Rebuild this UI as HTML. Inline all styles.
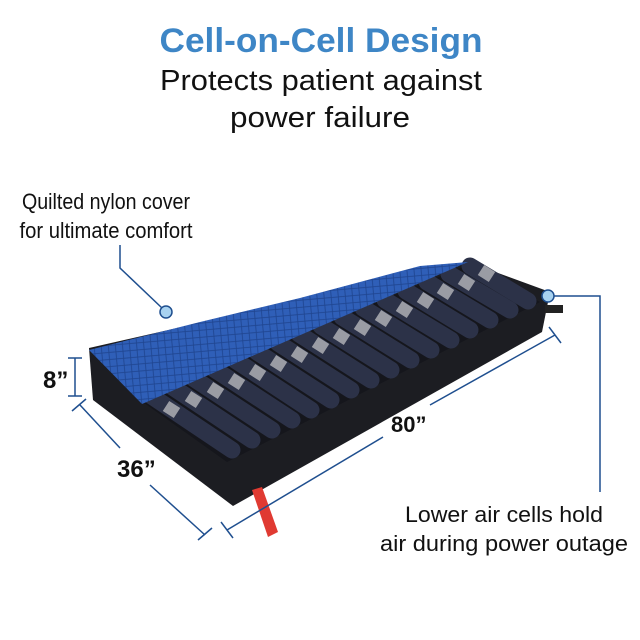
<!DOCTYPE html>
<html><head><meta charset="utf-8"><style>
html,body{margin:0;padding:0;background:#fff;}
svg{display:block;}
text{font-family:"Liberation Sans",sans-serif;}
</style></head><body>
<svg width="640" height="640" viewBox="0 0 640 640" xmlns="http://www.w3.org/2000/svg">
<defs>
<pattern id="q" width="10" height="10" patternUnits="userSpaceOnUse" patternTransform="rotate(40)">
<rect width="10" height="10" fill="#2f5fb8"/>
<path d="M0 0L10 10M10 0L0 10" stroke="#1f4590" stroke-width="0.8"/>
</pattern>
</defs>
<text x="321" y="52" text-anchor="middle" font-size="34" font-weight="bold" fill="#3e86c6" textLength="323" lengthAdjust="spacingAndGlyphs">Cell-on-Cell Design</text>
<text x="321" y="90" text-anchor="middle" font-size="29" fill="#111" textLength="322" lengthAdjust="spacingAndGlyphs">Protects patient against</text>
<text x="320" y="127" text-anchor="middle" font-size="29" fill="#111" textLength="180" lengthAdjust="spacingAndGlyphs">power failure</text>
<text x="106" y="209" text-anchor="middle" font-size="22" fill="#111" textLength="168" lengthAdjust="spacingAndGlyphs">Quilted nylon cover</text>
<text x="106" y="238" text-anchor="middle" font-size="22" fill="#111" textLength="173" lengthAdjust="spacingAndGlyphs">for ultimate comfort</text>
<text x="504" y="522" text-anchor="middle" font-size="22" fill="#111" textLength="198" lengthAdjust="spacingAndGlyphs">Lower air cells hold</text>
<text x="504" y="551" text-anchor="middle" font-size="22" fill="#111" textLength="248" lengthAdjust="spacingAndGlyphs">air during power outage</text>

<!-- base -->
<polygon points="89,348 93,400 233,506 542,332 550,292 468,262" fill="#1c1d22"/>
<polygon points="140,400 227,462 540,302 470,264" fill="#15161c"/>
<!-- cells -->
<g stroke-linecap="round" stroke="#2c3248" stroke-width="17">
<line x1="232" y1="450" x2="150" y2="395"/><line x1="252" y1="440" x2="171" y2="386"/><line x1="272" y1="430" x2="193" y2="378"/><line x1="292" y1="420" x2="214" y2="369"/><line x1="311" y1="410" x2="235" y2="360"/><line x1="331" y1="400" x2="257" y2="352"/><line x1="351" y1="390" x2="278" y2="343"/><line x1="371" y1="380" x2="299" y2="334"/><line x1="391" y1="370" x2="321" y2="326"/><line x1="411" y1="360" x2="342" y2="317"/><line x1="431" y1="350" x2="363" y2="308"/><line x1="451" y1="340" x2="385" y2="300"/><line x1="470" y1="330" x2="406" y2="291"/><line x1="490" y1="320" x2="427" y2="282"/><line x1="510" y1="310" x2="449" y2="274"/><line x1="528" y1="301" x2="470" y2="266"/>
</g>
<g stroke="#9a9ca4" stroke-width="12">
<line x1="177" y1="413" x2="166" y2="406"/><line x1="199" y1="403" x2="188" y2="396"/><line x1="221" y1="394" x2="210" y2="387"/><line x1="242" y1="385" x2="231" y2="378"/><line x1="263" y1="376" x2="252" y2="369"/><line x1="284" y1="367" x2="273" y2="360"/><line x1="305" y1="358" x2="294" y2="351"/><line x1="326" y1="349" x2="315" y2="342"/><line x1="347" y1="340" x2="336" y2="333"/><line x1="368" y1="331" x2="357" y2="324"/><line x1="389" y1="322" x2="378" y2="315"/><line x1="410" y1="313" x2="399" y2="306"/><line x1="431" y1="304" x2="420" y2="297"/><line x1="451" y1="295" x2="440" y2="288"/><line x1="472" y1="286" x2="461" y2="279"/><line x1="492" y1="277" x2="481" y2="270"/>
</g>
<!-- cover -->
<polygon points="89,350 200,322 300,298 420,266 468,262 142,404" fill="url(#q)"/>
<!-- handles/tab -->
<rect x="545" y="305" width="18" height="8" fill="#222"/>
<polygon points="252,490 262,487 278,532 268,537" fill="#e03a32"/>

<!-- dimension lines -->
<g stroke="#1f4f8f" stroke-width="1.5" fill="none">
<line x1="75" y1="358" x2="75" y2="396"/><line x1="68" y1="358" x2="82" y2="358"/><line x1="68" y1="396" x2="82" y2="396"/>
<line x1="80" y1="405" x2="120" y2="448"/><line x1="150" y1="485" x2="205" y2="535"/>
<line x1="72" y1="411" x2="86" y2="399"/><line x1="198" y1="540" x2="212" y2="528"/>
<line x1="227" y1="530" x2="383" y2="437"/><line x1="430" y1="405" x2="555" y2="335"/>
<line x1="221" y1="522" x2="233" y2="538"/><line x1="549" y1="327" x2="561" y2="343"/>
<polyline points="120,245 120,268 162,308"/>
<polyline points="554,296 600,296 600,492"/>
</g>
<circle cx="166" cy="312" r="6" fill="#a8d2f0" stroke="#1f4f8f" stroke-width="1.5"/>
<circle cx="548" cy="296" r="6" fill="#a8d2f0" stroke="#1f4f8f" stroke-width="1.5"/>
<text x="43" y="388" font-size="24" font-weight="bold" fill="#111">8”</text>
<text x="117" y="477" font-size="24" font-weight="bold" fill="#111">36”</text>
<text x="391" y="432" font-size="22" font-weight="bold" fill="#111">80”</text>
</svg>
</body></html>
